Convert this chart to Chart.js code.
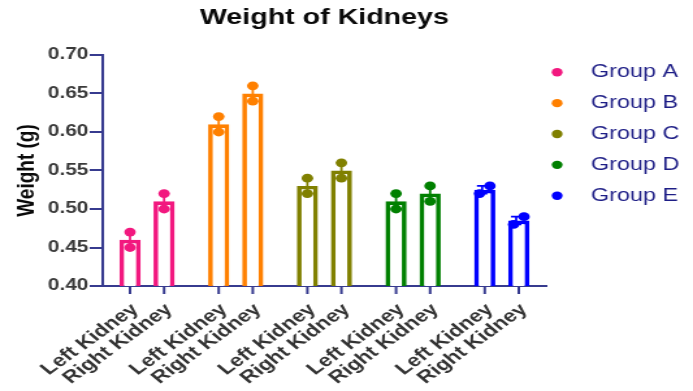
<!DOCTYPE html>
<html>
<head>
<meta charset="utf-8">
<title>Weight of Kidneys</title>
<script src="https://cdn.jsdelivr.net/npm/chart.js@4.4.1/dist/chart.umd.min.js"></script>
<style>
  html, body { margin: 0; padding: 0; background: #fff; overflow: hidden; }
  /* the figure is drawn narrow and widened, as in the exported graph */
  #wrap { width: 533px; height: 391px; transform: scaleX(1.3002); transform-origin: 0 0; }
  canvas { display: block; }
</style>
</head>
<body>
<div id="wrap"><canvas id="kidneys" width="533" height="391"></canvas></div>
<script>
// ---- data ----
const groups = ['Group A', 'Group B', 'Group C', 'Group D', 'Group E'];
const sides = ['Left Kidney', 'Right Kidney'];
const groupColors = ['#f2187f', '#ff8000', '#808000', '#008000', '#0000ff'];
const leftMean = [0.46, 0.61, 0.53, 0.51, 0.525];
const rightMean = [0.51, 0.65, 0.55, 0.52, 0.485];
const leftPoints = [[0.47, 0.45], [0.62, 0.60], [0.54, 0.52], [0.52, 0.50], [0.52, 0.53]];
const rightPoints = [[0.52, 0.50], [0.66, 0.64], [0.56, 0.54], [0.53, 0.51], [0.48, 0.49]];
const yTicks = [0.40, 0.45, 0.50, 0.55, 0.60, 0.65, 0.70];

const FONT = '"Liberation Sans", Arial, Helvetica, sans-serif';
const axisColor = '#373b8f';
Chart.defaults.font.family = FONT;

// individual animals as dots plus mean ± SEM whiskers on each bar
const replicates = {
  id: 'replicates',
  afterDatasetsDraw(chart) {
    const ctx = chart.ctx;
    const y = chart.scales.y;
    [leftPoints, rightPoints].forEach((pts, d) => {
      const ds = chart.data.datasets[d];
      chart.getDatasetMeta(d).data.forEach((bar, i) => {
        const vals = pts[i];
        const color = groupColors[i];
        const n = vals.length;
        const mean = ds.data[i];
        const avg = vals.reduce((a, b) => a + b, 0) / n;
        const sd = Math.sqrt(vals.reduce((a, b) => a + (b - avg) * (b - avg), 0) / (n - 1));
        const sem = sd / Math.sqrt(n);
        const close = Math.max(...vals) - Math.min(...vals) < 0.015;
        const cx = bar.x + (close ? -2 : 0);
        const yHi = y.getPixelForValue(mean + sem);
        const yLo = y.getPixelForValue(mean - sem);
        ctx.save();
        ctx.strokeStyle = color;
        ctx.lineWidth = 1.8;
        ctx.beginPath();
        ctx.moveTo(cx, yLo); ctx.lineTo(cx, yHi);
        ctx.moveTo(cx - 4, yHi); ctx.lineTo(cx + 4, yHi);
        ctx.moveTo(cx - 4, yLo); ctx.lineTo(cx + 4, yLo);
        ctx.stroke();
        // dots; near-equal replicates are spread sideways
        const order = vals.map((v, k) => k).sort((a, b) => vals[a] - vals[b]);
        ctx.fillStyle = color;
        order.forEach((k, rank) => {
          const dx = close ? (rank === 0 ? -4 : 4) : 0;
          ctx.beginPath();
          ctx.arc(bar.x + dx, y.getPixelForValue(vals[k]), 4.4, 0, Math.PI * 2);
          ctx.fill();
        });
        ctx.restore();
      });
    });
  }
};

// tick marks and slanted side names under every bar
const barLabels = {
  id: 'barLabels',
  afterDraw(chart) {
    const ctx = chart.ctx;
    const bottom = chart.chartArea.bottom;
    ctx.save();
    sides.forEach((name, d) => {
      chart.getDatasetMeta(d).data.forEach(bar => {
        ctx.strokeStyle = axisColor;
        ctx.lineWidth = 2;
        ctx.beginPath();
        ctx.moveTo(bar.x, bottom);
        ctx.lineTo(bar.x, bottom + 8);
        ctx.stroke();
        ctx.save();
        ctx.translate(bar.x + 4, bottom + 21);
        ctx.rotate(-43 * Math.PI / 180);
        ctx.font = 'bold 17.5px ' + FONT;
        ctx.fillStyle = '#333333';
        ctx.textAlign = 'right';
        ctx.textBaseline = 'middle';
        ctx.fillText(name, 0, 0);
        ctx.restore();
      });
    });
    ctx.restore();
  }
};

// group key on the right
const groupKey = {
  id: 'groupKey',
  afterDraw(chart) {
    const ctx = chart.ctx;
    const area = chart.chartArea;
    const x0 = area.right + 8.5;
    const top = area.top + 17.3;
    ctx.save();
    ctx.font = '18px ' + FONT;
    ctx.textBaseline = 'middle';
    ctx.textAlign = 'left';
    groups.forEach((g, i) => {
      const cy = top + i * 30.85;
      ctx.fillStyle = groupColors[i];
      ctx.beginPath();
      ctx.arc(x0, cy, 4.2, 0, Math.PI * 2);
      ctx.fill();
      ctx.fillStyle = '#1e1e86';
      ctx.fillText(g, x0 + 26, cy);
    });
    ctx.restore();
  }
};

new Chart(document.getElementById('kidneys'), {
  type: 'bar',
  data: {
    labels: groups,
    datasets: [
      { label: sides[0], data: leftMean, borderColor: groupColors, backgroundColor: '#ffffff', borderWidth: 3.7 },
      { label: sides[1], data: rightMean, borderColor: groupColors, backgroundColor: '#ffffff', borderWidth: 3.7 }
    ]
  },
  options: {
    responsive: false,
    animation: false,
    devicePixelRatio: 1,
    categoryPercentage: 0.768,
    barPercentage: 0.622,
    layout: { padding: { top: 0, left: 0, right: 113, bottom: 105 } },
    plugins: {
      legend: { display: false },
      tooltip: { enabled: false },
      title: {
        display: true,
        text: 'Weight of Kidneys',
        fullSize: false,
        color: '#0a0a0a',
        font: { size: 22, weight: 'bold' },
        padding: { top: 5, bottom: 23.6 }
      }
    },
    scales: {
      x: {
        grid: { display: false, drawTicks: false },
        ticks: { display: false },
        border: { display: true, color: axisColor, width: 2 }
      },
      y: {
        min: 0.40,
        max: 0.70,
        afterBuildTicks: s => { s.ticks = yTicks.map(v => ({ value: v })); },
        afterFit: s => { s.width = 79; },
        grid: { display: true, drawOnChartArea: false, drawTicks: true, tickLength: 10, color: axisColor, lineWidth: 2 },
        border: { display: true, color: axisColor, width: 2 },
        ticks: {
          padding: 1,
          color: '#3a3a3a',
          font: { size: 16, weight: 'bold' },
          callback: v => Number(v).toFixed(2)
        },
        title: {
          display: true,
          text: 'Weight (g)',
          color: '#0a0a0a',
          font: { size: 19, weight: 'bold' },
          padding: { top: 9.4, bottom: 0 }
        }
      }
    }
  },
  plugins: [replicates, barLabels, groupKey]
});
</script>
</body>
</html>
